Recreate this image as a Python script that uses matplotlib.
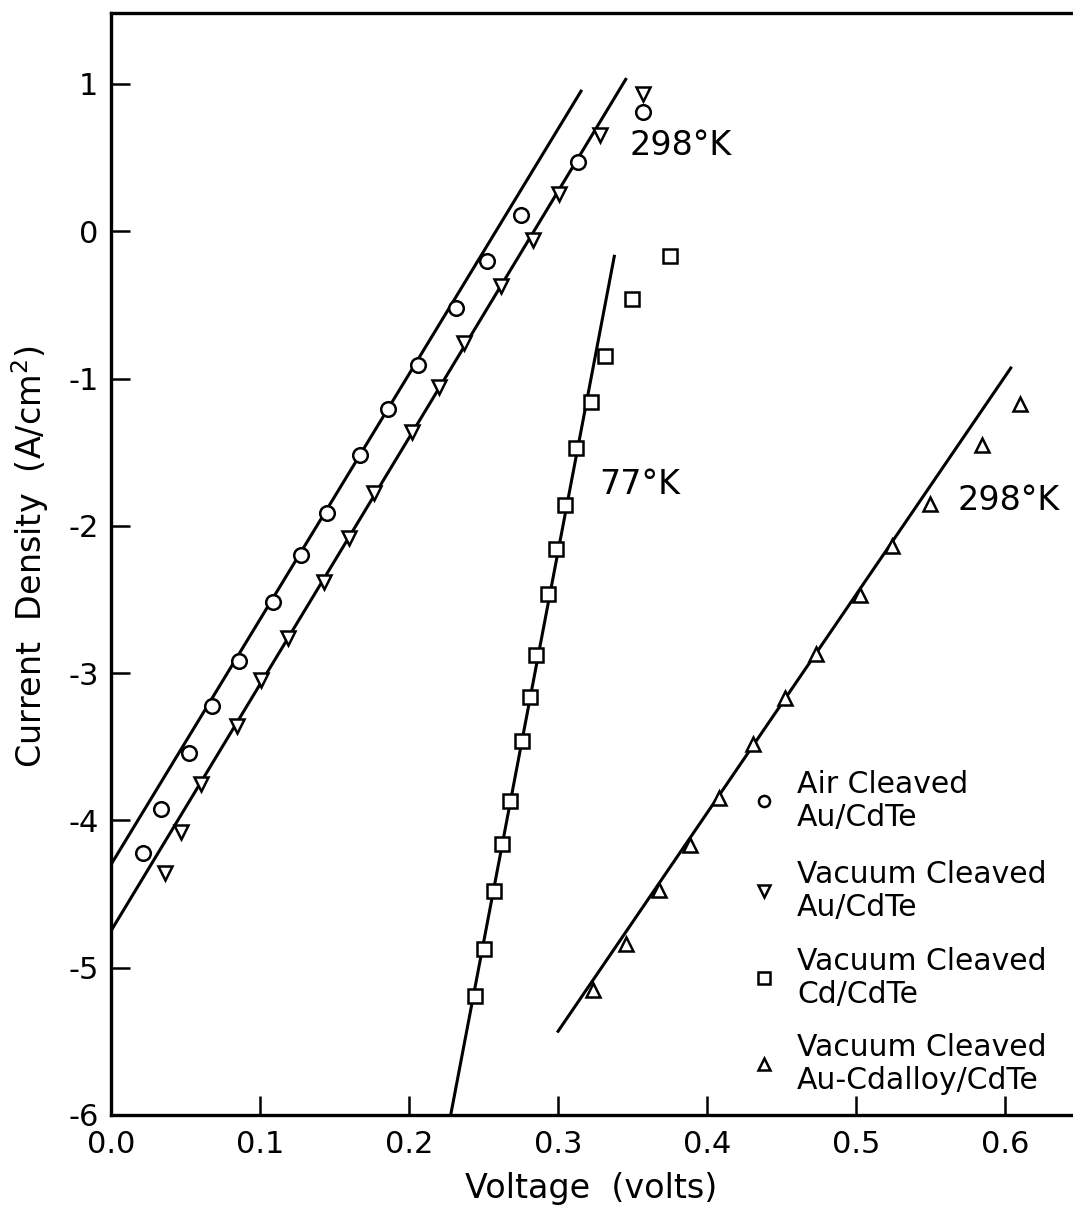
import matplotlib
matplotlib.use("Agg")
import matplotlib.pyplot as plt

plt.rcParams['font.family'] = ['DejaVu Sans']
plt.rcParams['axes.unicode_minus'] = False

# measured points (volts, current density)
air_v = [0.0217, 0.0333, 0.0521, 0.0678, 0.0861, 0.1089, 0.1273, 0.1448,
         0.167, 0.186, 0.2062, 0.2315, 0.2526, 0.275, 0.3136, 0.357]
air_j = [-4.22, -3.92, -3.54, -3.22, -2.92, -2.52, -2.20, -1.91,
         -1.52, -1.21, -0.91, -0.52, -0.20, 0.11, 0.47, 0.81]

vac_au_v = [0.0362, 0.047, 0.0602, 0.0843, 0.1007, 0.119, 0.143, 0.160,
            0.1765, 0.2018, 0.2203, 0.237, 0.262, 0.283, 0.301, 0.328, 0.357]
vac_au_j = [-4.36, -4.08, -3.75, -3.36, -3.05, -2.76, -2.38, -2.08,
            -1.78, -1.36, -1.06, -0.76, -0.37, -0.06, 0.25, 0.65, 0.93]

cd_v = [0.2445, 0.2505, 0.2570, 0.2626, 0.2678, 0.276, 0.2812, 0.285,
        0.293, 0.299, 0.305, 0.312, 0.322, 0.3315, 0.350, 0.375]
cd_j = [-5.19, -4.87, -4.48, -4.16, -3.87, -3.46, -3.16, -2.88,
        -2.46, -2.16, -1.86, -1.47, -1.16, -0.85, -0.46, -0.17]

alloy_v = [0.3233, 0.3456, 0.368, 0.3886, 0.408, 0.431, 0.4523, 0.4732,
           0.5027, 0.524, 0.5497, 0.5848, 0.6104]
alloy_j = [-5.15, -4.84, -4.47, -4.17, -3.85, -3.48, -3.17, -2.87,
           -2.47, -2.14, -1.85, -1.45, -1.17]

# fitted straight lines (end points)
fit_air_v, fit_air_j = [0.0, 0.316], [-4.30, 0.96]
fit_vac_v, fit_vac_j = [0.0, 0.346], [-4.75, 1.04]
fit_cd_v, fit_cd_j = [0.228, 0.338], [-6.0, -0.16]
fit_alloy_v, fit_alloy_j = [0.2995, 0.6045], [-5.44, -0.92]

xticks = [0.0, 0.1, 0.2, 0.3, 0.4, 0.5, 0.6]
xtick_labels = ['0.0', '0.1', '0.2', '0.3', '0.4', '0.5', '0.6']
yticks = [1, 0, -1, -2, -3, -4, -5, -6]
ytick_labels = ['1', '0', '-1', '-2', '-3', '-4', '-5', '-6']

legend_labels = ['Air Cleaved\nAu/CdTe', 'Vacuum Cleaved\nAu/CdTe',
                 'Vacuum Cleaved\nCd/CdTe', 'Vacuum Cleaved\nAu-Cdalloy/CdTe']
legend_markers = ['o', 'v', 's', '^']

fig = plt.figure(figsize=(10.73, 12.06), dpi=100)
ax = fig.add_axes([0.10345, 0.07546, 0.8956, 0.9138])

lw = 2.2
for fv, fj in [(fit_air_v, fit_air_j), (fit_vac_v, fit_vac_j),
               (fit_cd_v, fit_cd_j), (fit_alloy_v, fit_alloy_j)]:
    ax.plot(fv, fj, color='black', lw=lw, solid_capstyle='butt', zorder=2)

mk = dict(linestyle='none', markerfacecolor='white', markeredgecolor='black',
          markeredgewidth=1.8, zorder=3)
ax.plot(air_v, air_j, marker='o', markersize=10.5, **mk)
ax.plot(vac_au_v, vac_au_j, marker='v', markersize=10.5, **mk)
ax.plot(cd_v, cd_j, marker='s', markersize=9.5, **mk)
ax.plot(alloy_v, alloy_j, marker='^', markersize=10.5, **mk)

# temperature notes
ax.text(0.348, 0.58, '298°K', fontsize=24, va='center', ha='left')
ax.text(0.328, -1.72, '77°K', fontsize=24, va='center', ha='left')
ax.text(0.568, -1.83, '298°K', fontsize=24, va='center', ha='left')

# legend block drawn by hand
entry_y = [0.2849, 0.2033, 0.1243, 0.0463]
for lab, m, yy in zip(legend_labels, legend_markers, entry_y):
    ax.plot([0.6795], [yy], marker=m, markersize=8, transform=ax.transAxes,
            clip_on=False, **mk)
    ax.text(0.7139, yy, lab, fontsize=21.5, va='center', ha='left',
            linespacing=1.2, transform=ax.transAxes)

ax.set_xlim(0, 0.645)
ax.set_ylim(-6, 1.482)
ax.set_xticks(xticks)
ax.set_xticklabels(xtick_labels)
ax.set_yticks(yticks)
ax.set_yticklabels(ytick_labels)
ax.tick_params(direction='in', length=14, width=1.8, labelsize=22)
ax.tick_params(axis='x', pad=11)
ax.tick_params(axis='y', pad=9)

for s in ['left', 'bottom', 'top']:
    ax.spines[s].set_linewidth(2.4)
ax.spines['right'].set_visible(False)

ax.set_xlabel('Voltage  (volts)', fontsize=24)
ax.set_ylabel('Current  Density  (A/cm$^2$)', fontsize=24)
ax.xaxis.set_label_coords(0.5, -0.052)
ax.yaxis.set_label_coords(-0.062, 0.506)

fig.savefig('out.png', dpi=100)
